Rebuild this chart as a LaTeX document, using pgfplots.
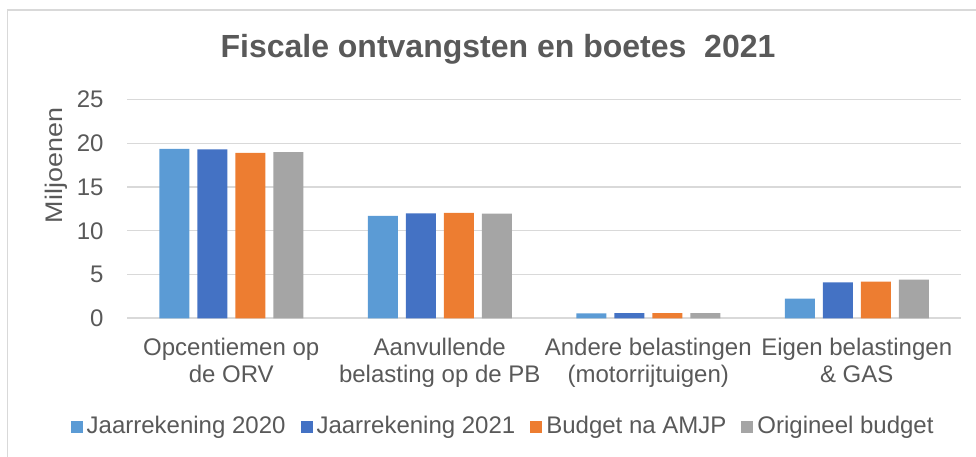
\documentclass[border=0pt]{standalone}
\usepackage{fontspec}
\setmainfont{Liberation Sans}
\usepackage{pgfplots}
\pgfplotsset{compat=1.18}

\definecolor{jr20}{HTML}{5B9BD5}
\definecolor{jr21}{HTML}{4472C4}
\definecolor{amjp}{HTML}{ED7D31}
\definecolor{orig}{HTML}{A5A5A5}
\definecolor{gridc}{HTML}{D9D9D9}
\definecolor{txt}{HTML}{595959}

\begin{document}
\begin{tikzpicture}
\useasboundingbox (0pt,0pt) rectangle (976pt,457pt);
% chart frame (only left and top edges visible in the crop)
\draw[gridc, line width=1.2pt] (7.5pt,0pt) -- (7.5pt,447pt) -- (976pt,447pt);
\node[text=txt, font=\fontsize{32}{38}\selectfont\bfseries] at (498pt,408pt) {Fiscale ontvangsten en boetes\ \ 2021};
% y axis title
\node[text=txt, font=\fontsize{24}{28}\selectfont, rotate=90, inner sep=0pt] at (56pt,291.5pt) {\scalebox{1.12}[1]{Miljoenen}};
\begin{axis}[
  at={(127pt,138.7pt)}, anchor=south west,
  scale only axis, width=834pt, height=218.8pt,
  ybar=8pt, bar width=30pt,
  xmin=-0.5, xmax=3.5, ymin=0, ymax=25,
  ytick={0,5,...,25},
  xtick={0,1,2,3},
  xticklabels={{Opcentiemen op\\de ORV},{Aanvullende\\belasting op de PB},{Andere belastingen\\(motorrijtuigen)},{Eigen belastingen\\\& GAS}},
  axis line style={draw=none},
  major tick length=0pt,
  ymajorgrids, grid style={gridc, line width=1.3pt},
  extra y ticks={0}, extra y tick labels={},
  extra y tick style={grid style={gridc, line width=1.6pt}},
  tick label style={text=txt, font=\fontsize{24}{27}\selectfont},
  xticklabel style={align=center, yshift=-16pt},
  yticklabel style={xshift=-20pt},
  /pgf/number format/assume math mode=true,
  legend columns=4,
  legend style={draw=none, at={(axis description cs:0.451,-0.49)}, anchor=center,
    font=\fontsize{24}{27}\selectfont, text=txt,
    /tikz/every odd column/.append style={column sep=2pt},
    /tikz/every even column/.append style={column sep=13pt}},
  legend image code/.code={\fill[#1] (0pt,-7pt) rectangle (12pt,5pt);},
  every axis plot/.append style={draw=none},
]
\addplot[fill=jr20] coordinates {(0,19.35) (1,11.7) (2,0.57) (3,2.25)};
\addplot[fill=jr21] coordinates {(0,19.3) (1,12.0) (2,0.6) (3,4.1)};
\addplot[fill=amjp] coordinates {(0,18.9) (1,12.05) (2,0.6) (3,4.2)};
\addplot[fill=orig] coordinates {(0,19.0) (1,11.95) (2,0.6) (3,4.43)};
\legend{Jaarrekening 2020, Jaarrekening 2021, Budget na AMJP, Origineel budget}
\end{axis}
\end{tikzpicture}
\end{document}
